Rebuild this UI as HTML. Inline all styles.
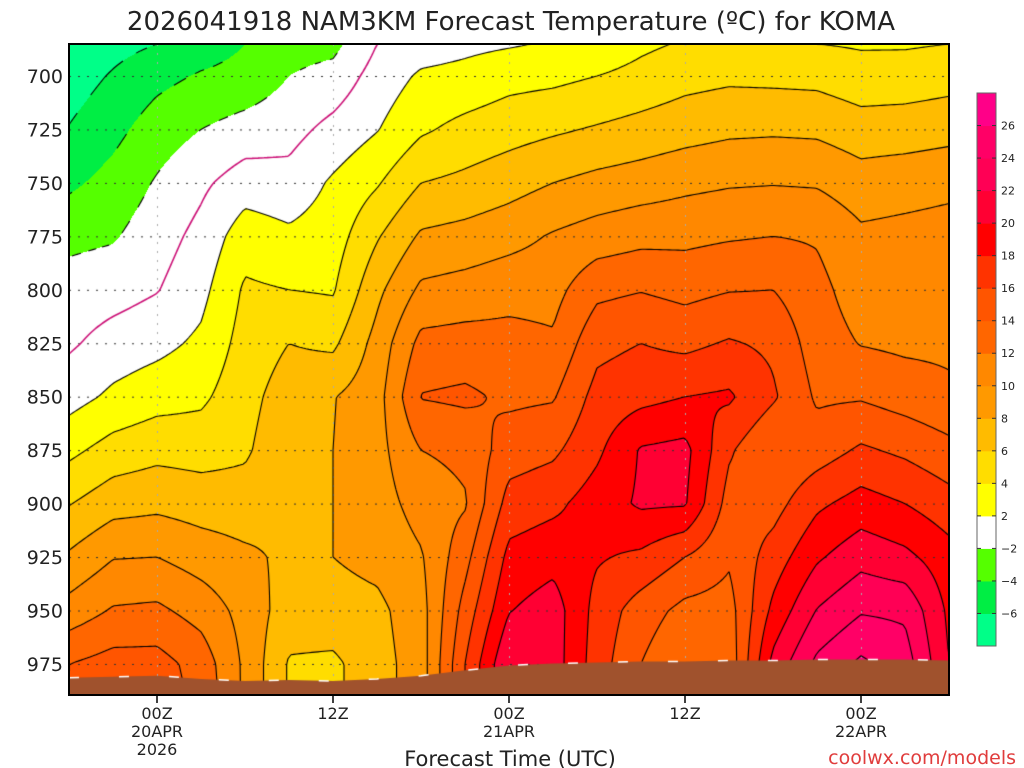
<!DOCTYPE html>
<html><head><meta charset="utf-8">
<style>
html,body{margin:0;padding:0;background:#fff;}
#wrap{position:relative;width:1024px;height:768px;overflow:hidden;font-family:"DejaVu Sans","Liberation Sans",sans-serif;}
canvas,svg{position:absolute;left:0;top:0;}
</style></head>
<body>
<div id="wrap">
<canvas id="cv" width="1024" height="768"></canvas>
<svg id="ov" width="1024" height="768" font-family="DejaVu Sans, Liberation Sans, sans-serif">
  <text x="511" y="30" text-anchor="middle" font-size="26" fill="#222">2026041918 NAM3KM Forecast Temperature (ºC) for KOMA</text>
  <text x="510" y="766" text-anchor="middle" font-size="21" fill="#222">Forecast Time (UTC)</text>
  <text x="1016" y="764" text-anchor="end" font-size="19" fill="#e03c3c">coolwx.com/models</text>
  <g id="yax"></g>
  <g id="xax"></g>
  <g id="cbar"></g>
  <rect x="69" y="44" width="880" height="651" fill="none" stroke="#000" stroke-width="2"/>
</svg>
</div>
<script>
// ---- data ----
const hours = [-6,-3,0,3,6,9,12,15,18,21,24,27,30,33,36,39,42,45,48,51,54];
const pressures = [685,700,725,750,775,800,825,850,875,900,925,950,975,990];
const tempCols = [
 [-8,-7,-5.9,-4.4,-2.5,-1.2,-0.3,1.2,3.5,5.9,8.3,10.8,14,14],
 [-6.7,-5.8,-4.6,-3.3,-2.2,-0.8,0.8,2.4,4.8,7.2,9.9,12.2,14.8,15],
 [-6,-4.6,-3,-1.8,-0.9,-0.1,1.4,3.2,5.4,7.5,10,12.4,14.8,15],
 [-5,-3.8,-2,-0.4,0.6,1.4,2.4,3.6,5.2,7.1,9.1,11.2,13.2,13.5],
 [-4,-3.4,-1.2,1.0,3.1,4.3,4.8,5.3,5.7,6.9,8.4,9.3,9.6,9.6],
 [-2.8,-2,-0.7,0.7,2.4,4,6,7,7.5,7.8,7.6,7,5.8,5.8],
 [-2.6,-1.3,0.6,2.3,3,3.8,5.6,7.9,8,8,8,7.2,5.6,5.6],
 [0,0.8,1.9,3.8,5.8,7.5,8.7,9.2,9.3,9.1,8.6,7.5,7.2,7.2],
 [1,2.3,3.7,6,8.3,10.4,12.6,14.1,12,10.8,9.8,9.2,9,9],
 [1.5,2.6,4.6,6.5,8.7,10.8,12.8,14.4,12.5,11.8,13.3,14.8,16,16],
 [1.8,3.3,5.2,7.2,9.3,11.3,12.7,13.6,15,16.8,18.6,19.9,22,22],
 [2.2,3.5,5.7,8,10.2,11.3,12.3,13.8,15.6,17.5,19.3,21,21,21],
 [2.6,4,6.2,8.6,10.9,13.5,15.4,16.7,17.6,19,18.2,17.3,17,17],
 [3.6,4.6,6.7,9,11.4,13.9,16,17.4,20.2,20.3,17.6,15,14,14],
 [4.2,5.3,7.2,9.5,11.5,13.4,15.5,18,20.6,20.2,16,13.4,12,12],
 [4,5.6,7.6,9.8,11.8,13.9,16.2,18.3,16.3,15.2,14.3,13.2,12.6,12.6],
 [4,5.5,7.7,9.9,12,14,15.6,16.3,14,15.2,16.9,18.5,20.6,20.6],
 [4,5.4,7.6,9.8,11.8,12.6,13,13.7,15,17.6,19.7,22.1,24.5,24.5],
 [3.8,4.8,6.9,8.9,10.4,11,11.9,13.8,16.3,18.8,21.3,23.8,26.4,26.4],
 [3.8,4.9,7,9.2,10.6,11,11.6,13.1,15.6,18,20.5,23.6,25,25],
 [4,5.2,7.3,9.5,10.8,11.2,11.6,12.4,14.6,16.8,18.8,19.6,20,20]
];
const groundP = [981.5,981,980.5,982,983,982.5,983,982,980.5,978,975.7,974.8,974.3,973.8,973.8,973.4,973.4,972.9,972.9,972.9,973.4];
const yTicks = [700,725,750,775,800,825,850,875,900,925,950,975];
const xTickHours = [0,12,24,36,48];
const xTickLabels = [["00Z","20APR","2026"],["12Z"],["00Z","21APR"],["12Z"],["00Z","22APR"]];
const binEdges = [-6,-4,-2,2,4,6,8,10,12,14,16,18,20,22,24,26];
const binColors = ["#00ff88","#00ee44","#55ff00","#ffffff","#ffff00","#ffdd00","#ffbb00","#ff9900","#ff8800","#ff6600","#ff5500","#ff3300","#ff0000","#ff0033","#ff0055","#ff0066","#ff0088"];
const contourLevels = [-6,-4,-2,0,2,4,6,8,10,12,14,16,18,20,22,24,26];

// ---- axes ----
const X0=69,X1=949,Y0=44,Y1=695;
const H0=-6,H1=54;
function xOf(h){ return X0 + (h-H0)/(H1-H0)*(X1-X0); }
function hOf(x){ return H0 + (x-X0)/(X1-X0)*(H1-H0); }
function yOf(p){ return 76 + (p-700)*2.138; }
function pOf(y){ return 700 + (y-76)/2.138; }

function tempAt(h,p){
  let i = Math.floor((h-hours[0])/3); i=Math.max(0,Math.min(hours.length-2,i));
  let fx = (h-hours[i])/(hours[i+1]-hours[i]); fx=Math.max(0,Math.min(1,fx));
  let j=0; while(j<pressures.length-2 && p>pressures[j+1]) j++;
  let fy=(p-pressures[j])/(pressures[j+1]-pressures[j]); fy=Math.max(0,Math.min(1,fy));
  const a=tempCols[i][j],b=tempCols[i+1][j],c=tempCols[i][j+1],d=tempCols[i+1][j+1];
  return (a*(1-fx)+b*fx)*(1-fy)+(c*(1-fx)+d*fx)*fy;
}
function hex(c){return [parseInt(c.substr(1,2),16),parseInt(c.substr(3,2),16),parseInt(c.substr(5,2),16)];}
const rgbBins = binColors.map(hex);

const cv=document.getElementById('cv'); const ctx=cv.getContext('2d');
const W=X1-X0, Hh=Y1-Y0;
const img=ctx.createImageData(W,Hh);
for(let y=0;y<Hh;y++){
  const p=pOf(Y0+y+0.5);
  for(let x=0;x<W;x++){
    const t=tempAt(hOf(X0+x+0.5),p);
    let k=0; while(k<binEdges.length && t>=binEdges[k]) k++;
    const c=rgbBins[k], o=(y*W+x)*4;
    img.data[o]=c[0];img.data[o+1]=c[1];img.data[o+2]=c[2];img.data[o+3]=255;
  }
}
ctx.putImageData(img,X0,Y0);
ctx.save(); ctx.beginPath(); ctx.rect(X0,Y0,W,Hh); ctx.clip();
// grid
ctx.lineWidth=1;
ctx.strokeStyle="#333"; ctx.setLineDash([2,7]);
yTicks.forEach(function(p){ctx.beginPath();ctx.moveTo(X0,yOf(p)+0.5);ctx.lineTo(X1,yOf(p)+0.5);ctx.stroke();});
ctx.strokeStyle="#aaa";
xTickHours.forEach(function(h){ctx.beginPath();ctx.moveTo(xOf(h)+0.5,Y0);ctx.lineTo(xOf(h)+0.5,Y1);ctx.stroke();});
ctx.setLineDash([]);
// contours (marching squares)
const S=3, nx=Math.ceil(W/S)+1, ny=Math.ceil(Hh/S)+1;
const F=[];
for(let j=0;j<ny;j++){const row=[];const p=pOf(Y0+j*S);for(let i=0;i<nx;i++)row.push(tempAt(hOf(X0+i*S),p));F.push(row);}
contourLevels.forEach(function(L){
  ctx.beginPath();
  ctx.strokeStyle = L===0 ? "#cc1177" : "#000";
  ctx.lineWidth = L===0 ? 1.6 : 1.1;
  for(let j=0;j<ny-1;j++){
    for(let i=0;i<nx-1;i++){
      const v=[F[j][i],F[j][i+1],F[j+1][i+1],F[j+1][i]];
      const px=[X0+i*S,X0+(i+1)*S,X0+(i+1)*S,X0+i*S];
      const py=[Y0+j*S,Y0+j*S,Y0+(j+1)*S,Y0+(j+1)*S];
      const pts=[];
      for(let e=0;e<4;e++){
        const a=v[e],b=v[(e+1)%4];
        if((a<L)!==(b<L)){
          const f=(L-a)/(b-a);
          pts.push([px[e]+(px[(e+1)%4]-px[e])*f, py[e]+(py[(e+1)%4]-py[e])*f]);
        }
      }
      for(let k=0;k+1<pts.length;k+=2){
        if(L<0){const m=Math.floor((pts[k][0]+pts[k][1])/5); if(m%2) continue;}
        ctx.moveTo(pts[k][0],pts[k][1]); ctx.lineTo(pts[k+1][0],pts[k+1][1]);
      }
    }
  }
  ctx.stroke();
});
// terrain
ctx.beginPath(); ctx.moveTo(X0,Y1+2);
hours.forEach(function(h,i){ctx.lineTo(xOf(h),yOf(groundP[i]));});
ctx.lineTo(X1,Y1+2); ctx.closePath(); ctx.fillStyle="#a0522d"; ctx.fill();
ctx.beginPath();
hours.forEach(function(h,i){ if(i===0)ctx.moveTo(xOf(h),yOf(groundP[i])); else ctx.lineTo(xOf(h),yOf(groundP[i])); });
ctx.strokeStyle="#fff"; ctx.lineWidth=1.5; ctx.setLineDash([10,40]); ctx.stroke(); ctx.setLineDash([]);
ctx.restore();

// svg axes
const NS="http://www.w3.org/2000/svg";
function mk(tag,attrs,parent,txt){const e=document.createElementNS(NS,tag);for(const k in attrs)e.setAttribute(k,attrs[k]);if(txt!==undefined)e.textContent=txt;parent.appendChild(e);return e;}
const yax=document.getElementById('yax');
yTicks.forEach(function(p){
  const t=mk('text',{x:63,y:yOf(p)+7,'text-anchor':'end','font-size':19,fill:'#222'},yax,String(p));
  
  
});
const xax=document.getElementById('xax');
xTickHours.forEach(function(h,i){
  const l=mk('line',{x1:xOf(h),x2:xOf(h),y1:Y1,y2:Y1+8,stroke:'#000','stroke-width':1.5},xax);
  
  
  xTickLabels[i].forEach(function(s,k){
    const t=mk('text',{x:xOf(h),y:719+k*18,'text-anchor':'middle','font-size':16,fill:'#222'},xax,s);
    
    
  });
});
const cb=document.getElementById('cbar');
const CBX=977,CBW=19,CBT=93,CBB=646,nb=binColors.length,bh=(CBB-CBT)/nb;
binColors.forEach(function(c,k){
  const r=mk('rect',{x:CBX,y:CBB-(k+1)*bh,width:CBW,height:bh+0.5,fill:c},cb);
  
  
});
mk('rect',{x:CBX,y:CBT,width:CBW,height:CBB-CBT,fill:'none',stroke:'#666','stroke-width':1},cb);
binEdges.forEach(function(v,k){
  const y=CBB-(k+1)*bh;
  mk('line',{x1:CBX,x2:CBX+4,y1:y,y2:y,stroke:'#333'},cb);
  mk('line',{x1:CBX+CBW-4,x2:CBX+CBW,y1:y,y2:y,stroke:'#333'},cb);
  const t=mk('text',{x:1001,y:y+4,'font-size':11,fill:'#222'},cb,v<0?('\u2212'+(-v)):String(v));
  
  
});
</script>
</body></html>
